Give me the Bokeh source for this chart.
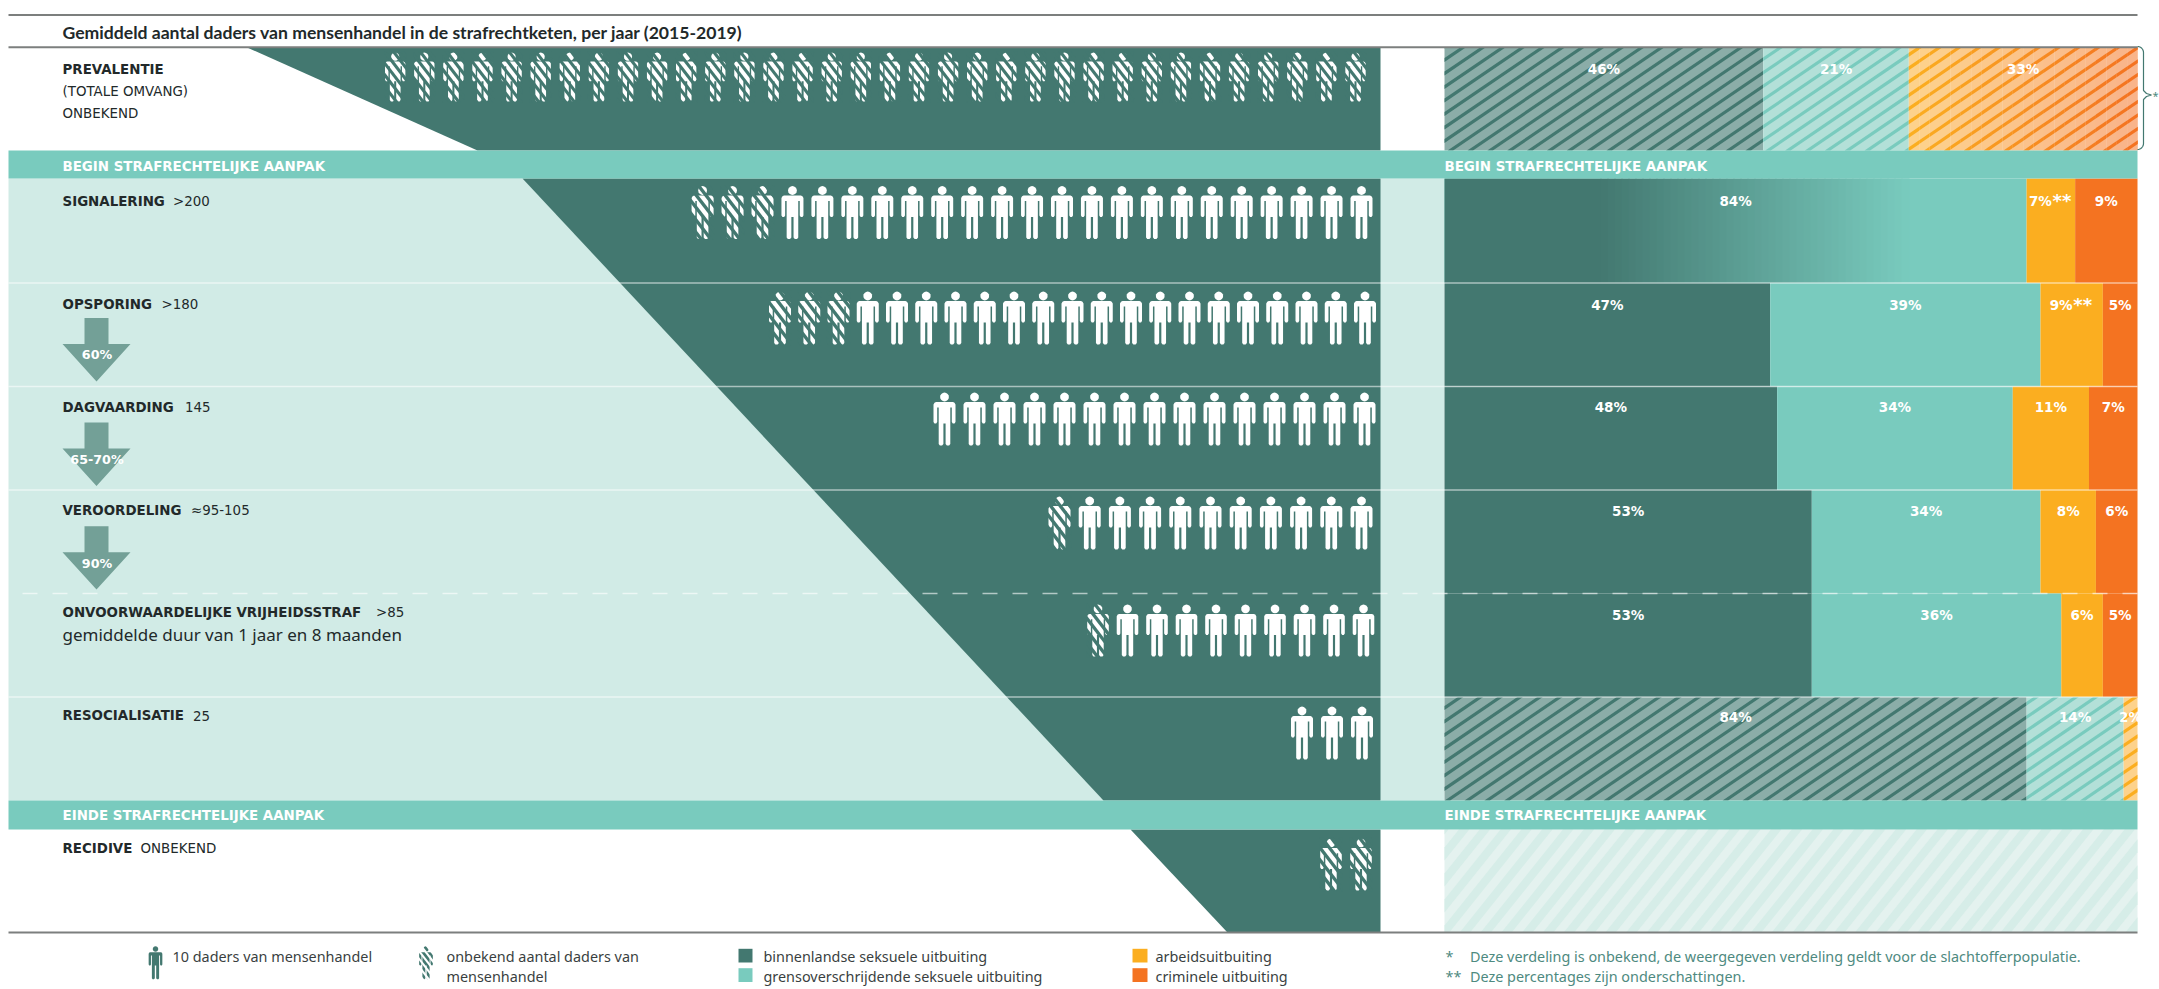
import math
from bokeh.plotting import figure
from bokeh.models import Range1d
from bokeh.embed import file_html
from bokeh.resources import INLINE
from bokeh.core.properties import value

# ---- data ----
title = "Gemiddeld aantal daders van mensenhandel in de strafrechtketen, per jaar (2015-2019)"
stages = ["PREVALENTIE", "SIGNALERING", "OPSPORING", "DAGVAARDING", "VEROORDELING",
          "ONVOORWAARDELIJKE VRIJHEIDSSTRAF", "RESOCIALISATIE", "RECIDIVE"]
stage_counts = ["", ">200", ">180", "145", "≈95-105", ">85", "25", "ONBEKEND"]
solid_icons = [0, 20, 18, 15, 10, 9, 3, 0]
hatched_icons = [34, 3, 3, 0, 1, 1, 0, 2]

prevalentie_pct = [46, 21, 33]
signalering_pct = [84, 7, 9]
opsporing_pct = [47, 39, 9, 5]
dagvaarding_pct = [48, 34, 11, 7]
veroordeling_pct = [53, 33, 8, 6]
vrijheidsstraf_pct = [53, 36, 6, 5]
resocialisatie_pct = [84, 14, 2]

prevalentie_lbl = ["46%", "21%", "33%"]
signalering_lbl = ["84%", "7%**", "9%"]
opsporing_lbl = ["47%", "39%", "9%**", "5%"]
dagvaarding_lbl = ["48%", "34%", "11%", "7%"]
veroordeling_lbl = ["53%", "34%", "8%", "6%"]
vrijheidsstraf_lbl = ["53%", "36%", "6%", "5%"]
resocialisatie_lbl = ["84%", "14%", "2%"]

arrow_labels = ["60%", "65-70%", "90%"]
band_labels = ["BEGIN STRAFRECHTELIJKE AANPAK", "EINDE STRAFRECHTELIJKE AANPAK"]
legend_people = ["10 daders van mensenhandel", "onbekend aantal daders van", "mensenhandel"]
legend_types = ["binnenlandse seksuele uitbuiting", "grensoverschrijdende seksuele uitbuiting",
                "arbeidsuitbuiting", "criminele uitbuiting"]
footnotes = ["Deze verdeling is onbekend, de weergegeven verdeling geldt voor de slachtofferpopulatie.",
             "Deze percentages zijn onderschattingen."]

# ---- colours / layout ----
DARK, TEAL, LIGHT = "#437870", "#79CBBE", "#D1EBE6"
YEL, ORA = "#FBAE20", "#F47321"
GREY, INK, ARROW, NOTE = "#7C7F7E", "#22292A", "#73A097", "#4E8A80"
BODY = "Noto Sans"
CAPS = "DejaVu Sans"

W, H = 2159, 989
LEFT, RIGHT, FUN_R, BAR_L = 8, 2137, 1380, 1444
PX_PER_PCT = (RIGHT - BAR_L) / 100.0
SLOPE, PERIOD, THICK = -0.68, 13.5, 3.8


def mix(a, b, t):
    ca = [int(a[i:i + 2], 16) for i in (1, 3, 5)]
    cb = [int(b[i:i + 2], 16) for i in (1, 3, 5)]
    return "#%02x%02x%02x" % tuple(round(u + (v - u) * t) for u, v in zip(ca, cb))


p = figure(width=W, height=H, output_backend="svg", toolbar_location=None,
           x_range=Range1d(0, W), y_range=Range1d(H, 0), min_border=0,
           background_fill_color="white", outline_line_color=None)
p.axis.visible = False
p.grid.visible = False
p.extra_x_ranges["pct"] = Range1d((0 - BAR_L) / PX_PER_PCT, (W - BAR_L) / PX_PER_PCT)


def px(pc):
    return BAR_L + pc * PX_PER_PCT


def clip(poly, x0, y0, x1, y1):
    def cut(pts, inside, inter):
        out = []
        for i, a in enumerate(pts):
            b = pts[(i + 1) % len(pts)]
            if inside(a):
                out.append(a)
                if not inside(b):
                    out.append(inter(a, b))
            elif inside(b):
                out.append(inter(a, b))
        return out

    def ix(v):
        return lambda a, b: (v, a[1] + (b[1] - a[1]) * (v - a[0]) / (b[0] - a[0]))

    def iy(v):
        return lambda a, b: (a[0] + (b[0] - a[0]) * (v - a[1]) / (b[1] - a[1]), v)

    for ins, f in ((lambda q: q[0] >= x0, ix(x0)), (lambda q: q[0] <= x1, ix(x1)),
                   (lambda q: q[1] >= y0, iy(y0)), (lambda q: q[1] <= y1, iy(y1))):
        if poly:
            poly = cut(poly, ins, f)
    return poly


def stripes(x0, y0, x1, y1, slope, period, thick):
    """Stripe polygons inside a box. slope is dy/dx on screen, period and thick along y."""
    xs, ys = [], []
    c0 = min(y0 - slope * x0, y0 - slope * x1, y1 - slope * x0, y1 - slope * x1) - thick
    c1 = max(y0 - slope * x0, y0 - slope * x1, y1 - slope * x0, y1 - slope * x1)
    c = math.floor(c0 / period) * period
    while c <= c1:
        poly = [(x0 - 2, slope * (x0 - 2) + c), (x1 + 2, slope * (x1 + 2) + c),
                (x1 + 2, slope * (x1 + 2) + c + thick), (x0 - 2, slope * (x0 - 2) + c + thick)]
        poly = clip(poly, x0, y0, x1, y1)
        if len(poly) > 2:
            xs.append([q[0] for q in poly])
            ys.append([q[1] for q in poly])
        c += period
    return xs, ys


def rect(x0, x1, y0, y1, color):
    p.quad(left=[x0], right=[x1], top=[y0], bottom=[y1], fill_color=color, line_color=None)


def poly(xs, ys, color):
    p.patch(x=xs, y=ys, fill_color=color, line_color=None)


def label(x, y, text, size, color=INK, bold=False, align="left", font=BODY):
    p.text(x=[x], y=[y], text=[text], text_font=value(font), text_font_size=f"{size}px",
           text_font_style="bold" if bold else "normal", text_color=color,
           text_align=align, text_baseline="middle")


# ---- person template (unit: px at 53 px tall) ----
HEAD = [(4.4 * math.cos(a * math.pi / 8), 4.5 + 4.4 * math.sin(a * math.pi / 8)) for a in range(16)]
BODY_R = [(0, 9.6), (8.5, 9.6), (10, 10.2), (11, 12), (11, 29.5), (10, 31), (8.3, 31), (7.3, 29.5),
          (7.3, 15), (5.8, 15), (5.8, 51.5), (4.6, 53), (2.4, 53), (1.1, 51.5), (1.1, 31), (0, 31)]
BODY_SHAPE = BODY_R + [(-a, b) for a, b in reversed(BODY_R[1:-1])]


def person(cx, top, h, fg):
    s = h / 53.0
    xs = [[cx + a * s for a, b in HEAD], [cx + a * s for a, b in BODY_SHAPE]]
    ys = [[top + b * s for a, b in HEAD], [top + b * s for a, b in BODY_SHAPE]]
    p.patches(xs=xs, ys=ys, fill_color=fg, line_color=None)


def hatched_person(cx, top, h, fg, bg):
    person(cx, top, h, fg)
    s = h / 53.0
    xs, ys = stripes(cx - 12 * s, top - 1, cx + 12 * s, top + h + 1, 1.3, 12.5 * s, 5.5 * s)
    p.patches(xs=xs, ys=ys, fill_color=bg, line_color=None)


def icon_row(i, right_cx, pitch, top, h):
    cx = right_cx
    for _ in range(solid_icons[i]):
        person(cx, top, h, "white")
        cx -= pitch
    for _ in range(hatched_icons[i]):
        hatched_person(cx, top, h, "white", DARK)
        cx -= pitch


def bar_row(values, y0, y1):
    start = 0
    for v, c in zip(values, [DARK, TEAL, YEL, ORA]):
        p.quad(left=[start], right=[start + v], top=[y0], bottom=[y1], fill_color=c,
               line_color=None, x_range_name="pct")
        start += v


def bar_labels(values, labels, y):
    start = 0
    for v, t in zip(values, labels):
        mid = start + v / 2
        common = dict(x_range_name="pct", text_font=value(CAPS), text_font_style="bold",
                      text_color="white", text_baseline="middle")
        if t.endswith("**"):
            p.text(x=[mid], y=[y], text=[t[:-2]], x_offset=-10.5, text_align="center",
                   text_font_size="13.5px", **common)
            p.text(x=[mid], y=[y - 0.5], text=["**"], x_offset=11, text_align="center",
                   text_font_size="18px", **common)
        else:
            p.text(x=[mid], y=[y], text=[t], text_align="center", text_font_size="13.5px", **common)
        start += v


def hatched_bar(x0, x1, y0, y1, base, line):
    rect(x0, x1, y0, y1, base)
    xs, ys = stripes(x0, y0, x1, y1, SLOPE, PERIOD, THICK)
    p.patches(xs=xs, ys=ys, fill_color=line, line_color=None)


# ---- row geometry ----
Y_TOP, Y_HEAD, B1_T, B1_B = 14.5, 46.7, 150, 178
SEP = [282.5, 386, 489.5, 593, 696.5]
B2_T, B2_B, Y_END = 800, 829, 932

# light backgrounds
rect(LEFT, BAR_L, B1_B, B2_T, LIGHT)

# funnel
poly([246, FUN_R, FUN_R, 477], [Y_HEAD, Y_HEAD, B1_T, B1_T], DARK)
poly([522, FUN_R, FUN_R, 1103], [B1_B, B1_B, B2_T, B2_T], DARK)
poly([1130, FUN_R, FUN_R, 1227], [B2_B, B2_B, Y_END, Y_END], DARK)

# hatched bars
hatched_bar(px(0), px(46), Y_HEAD, B1_T, "#8BADA8", DARK)
hatched_bar(px(46), px(67), Y_HEAD, B1_T, "#B3E0D8", TEAL)
N = 22
x0, x1 = px(67), px(100)
for k in range(N):
    t = k / (N - 1)
    a, b = x0 + (x1 - x0) * k / N, x0 + (x1 - x0) * (k + 1) / N
    rect(a, b + 0.3, Y_HEAD, B1_T, mix("#FDD28C", "#F9B48A", t))
    xs, ys = stripes(a, Y_HEAD, b + 0.3, B1_T, SLOPE, PERIOD, THICK)
    p.patches(xs=xs, ys=ys, fill_color=mix(YEL, ORA, t), line_color=None)

hatched_bar(px(0), px(84), SEP[4], B2_T, "#8BADA8", DARK)
hatched_bar(px(84), px(98), SEP[4], B2_T, "#B3E0D8", TEAL)
hatched_bar(px(98), px(100), SEP[4], B2_T, "#FDD28C", YEL)

rect(BAR_L, RIGHT, B2_B, Y_END, "#E4F2EF")
xs, ys = stripes(BAR_L, B2_B, RIGHT, Y_END, -1.25, 26, 13)
p.patches(xs=xs, ys=ys, fill_color="#D6EDE8", line_color=None)

# solid bars
# signalering: gradient from dark to teal inside the 84% segment
p.quad(left=[0], right=[signalering_pct[0]], top=[B1_B], bottom=[SEP[0]], fill_color=TEAL,
       line_color=None, x_range_name="pct")
GS, GE = 1600, 1908
rect(BAR_L, GS + 1, B1_B, SEP[0], DARK)
G = 44
for k in range(G):
    a = GS + (GE - GS) * k / G
    b = GS + (GE - GS) * (k + 1) / G
    rect(a, b + 1, B1_B, SEP[0], mix(DARK, TEAL, (k + 0.5) / G))
p.quad(left=[84], right=[91], top=[B1_B], bottom=[SEP[0]], fill_color=YEL, line_color=None, x_range_name="pct")
p.quad(left=[91], right=[100], top=[B1_B], bottom=[SEP[0]], fill_color=ORA, line_color=None, x_range_name="pct")

bar_row(opsporing_pct, SEP[0], SEP[1])
bar_row(dagvaarding_pct, SEP[1], SEP[2])
bar_row(veroordeling_pct, SEP[2], SEP[3])
bar_row(vrijheidsstraf_pct, SEP[3], SEP[4])

# bands
rect(LEFT, RIGHT, B1_T, B1_B, TEAL)
rect(LEFT, RIGHT, B2_T, B2_B, TEAL)

# separators
for y in (SEP[0], SEP[1], SEP[2], SEP[4]):
    p.line(x=[LEFT, RIGHT], y=[y, y], line_color="white", line_alpha=0.55, line_width=1.6)
p.line(x=[22, RIGHT], y=[SEP[3], SEP[3]], line_color="white", line_alpha=0.6, line_width=1.6,
       line_dash="15 15")

# rules
for y in (Y_TOP, Y_HEAD, Y_END):
    p.line(x=[LEFT, RIGHT], y=[y, y], line_color=GREY, line_width=2)


# brace
def arc(cx, cy, r, a0, a1, n=6):
    return [(cx + r * math.cos(a0 + (a1 - a0) * i / n), cy + r * math.sin(a0 + (a1 - a0) * i / n))
            for i in range(n + 1)]


brace = (arc(2137, 52, 6, -math.pi / 2, 0) + [(2143, 90)] + [(2146, 93), (2151, 94.5), (2146, 96), (2143, 99)]
         + [(2143, 143)] + arc(2137, 143, 6, 0, math.pi / 2))
p.line(x=[q[0] for q in brace], y=[q[1] for q in brace], line_color=DARK, line_width=1.2)
label(2152, 94.5, "*", 11, NOTE, False, "left")

# icons
icon_row(0, 1355, 29.1, 52, 49)
icon_row(1, 1361, 29.95, 185.5, 53)
icon_row(2, 1364.5, 29.25, 291, 53)
icon_row(3, 1364, 30, 392, 53)
icon_row(4, 1361, 30.2, 496, 53)
icon_row(5, 1363, 29.5, 604, 52)
icon_row(6, 1361.5, 30, 706, 53)
icon_row(7, 1360.5, 30, 838, 52)

# arrows
for (top, neck, tip), t in zip([(317.5, 343.5, 381), (422, 448, 485.5), (525.7, 551.7, 589)], arrow_labels):
    poly([84, 108, 108, 130, 96, 62, 84], [top, top, neck, neck, tip, neck, neck], ARROW)
    label(96.5, neck + 10.8, t, 12.7, "white", True, "center", CAPS)

# left labels
CS = 13.4
label(62, 68.7, stages[0], CS, INK, True, font=CAPS)
label(62, 90.7, "(TOTALE OMVANG)", CS, font=CAPS)
label(62, 113, stage_counts[7], CS, font=CAPS)
label(62, 165.7, band_labels[0], CS, "white", True, font=CAPS)
label(BAR_L, 165.7, band_labels[0], CS, "white", True, font=CAPS)
label(62, 815, band_labels[1], CS, "white", True, font=CAPS)
label(BAR_L, 815, band_labels[1], CS, "white", True, font=CAPS)

label(62, 200.7, stages[1], CS, INK, True, font=CAPS)
label(172.5, 200.7, stage_counts[1], CS, font=CAPS)
label(62, 303.7, stages[2], CS, INK, True, font=CAPS)
label(161, 303.7, stage_counts[2], CS, font=CAPS)
label(62, 406.7, stages[3], CS, INK, True, font=CAPS)
label(184.5, 406.7, stage_counts[3], CS, font=CAPS)
label(62, 509.7, stages[4], CS, INK, True, font=CAPS)
label(190.5, 509.7, stage_counts[4], CS, font=CAPS)
label(62, 612, stages[5], CS, INK, True, font=CAPS)
label(375.5, 612, stage_counts[5], CS, font=CAPS)
label(62, 634, "gemiddelde duur van 1 jaar en 8 maanden", 17)
label(62, 715, stages[6], CS, INK, True, font=CAPS)
label(192.5, 715, stage_counts[6], CS, font=CAPS)
label(62, 848, stages[7], CS, INK, True, font=CAPS)
label(140, 848, stage_counts[7], CS, font=CAPS)

label(62, 32.3, title, 17.6, INK, True, font="Lato")

# bar labels
bar_labels(prevalentie_pct, prevalentie_lbl, 68.5)
bar_labels(signalering_pct, signalering_lbl, 200)
bar_labels(opsporing_pct, opsporing_lbl, 304)
bar_labels(dagvaarding_pct, dagvaarding_lbl, 406.7)
bar_labels(veroordeling_pct, veroordeling_lbl, 510)
bar_labels(vrijheidsstraf_pct, vrijheidsstraf_lbl, 614)
bar_labels(resocialisatie_pct, resocialisatie_lbl, 716)

# legend
LG = 14.4
T1, T2 = 955.5, 975.5
person(155, 945.7, 33, DARK)
label(172, T1, legend_people[0], LG, "#3A3F3F")
hatched_person(425.5, 945.7, 33, DARK, "white")
label(446, T1, legend_people[1], LG, "#3A3F3F")
label(446, T2, legend_people[2], LG, "#3A3F3F")
rect(738, 752, 948.3, 962, DARK)
rect(738, 752, 967.7, 981.5, TEAL)
label(763, T1, legend_types[0], LG, "#3A3F3F")
label(763, T2, legend_types[1], LG, "#3A3F3F")
rect(1132, 1147, 948.3, 962, YEL)
rect(1132, 1147, 967.7, 981.5, ORA)
label(1155, T1, legend_types[2], LG, "#3A3F3F")
label(1155, T2, legend_types[3], LG, "#3A3F3F")
label(1445, T1, "*", LG, NOTE)
label(1445, T2, "**", LG, NOTE)
label(1469.5, T1, footnotes[0], LG, NOTE)
label(1469.5, T2, footnotes[1], LG, NOTE)

open("out.html", "w").write(file_html(p, INLINE))
